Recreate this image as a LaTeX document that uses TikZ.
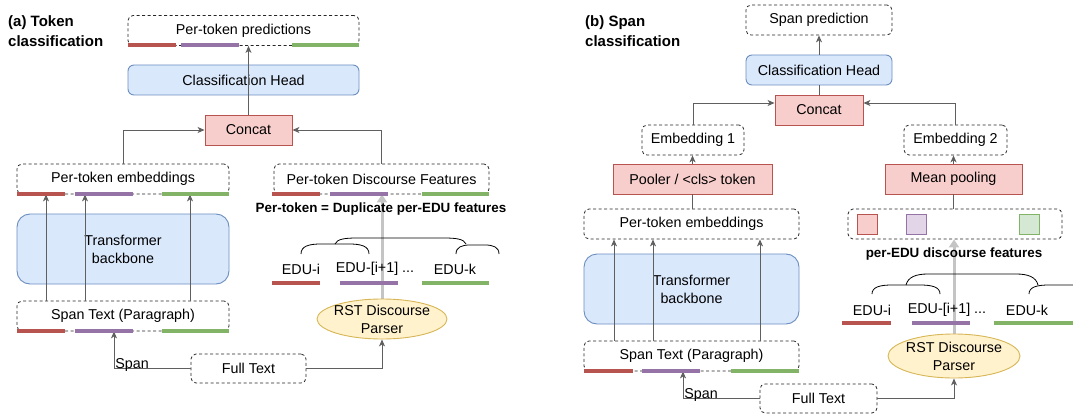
\documentclass[tikz,border=0pt]{standalone}
\usepackage{fontspec}
\setmainfont{Liberation Sans}
\usepackage{tikz}
\usetikzlibrary{arrows.meta,shapes,positioning,backgrounds}

\definecolor{linegray}{HTML}{5F5F5F}
\definecolor{edgeblue}{HTML}{6C8EBF}
\definecolor{fillblue}{HTML}{DAE8FC}
\definecolor{edgered}{HTML}{B85450}
\definecolor{fillred}{HTML}{F8CECC}
\definecolor{edgepurple}{HTML}{9673A6}
\definecolor{fillpurple}{HTML}{E1D5E7}
\definecolor{edgegreen}{HTML}{82B366}
\definecolor{fillgreen}{HTML}{D5E8D4}
\definecolor{edgeyellow}{HTML}{D6B656}
\definecolor{fillyellow}{HTML}{FFF2CC}
\definecolor{fatgray}{HTML}{C4C4C4}

\tikzset{
  dbox/.style={draw=black!85, line width=0.8pt, dash pattern=on 3pt off 2.5pt, rounded corners=5pt, minimum height=30pt, inner sep=0pt},
  headbox/.style={draw=edgeblue, line width=0.9pt, fill=fillblue, rounded corners=6pt, minimum height=30pt, inner sep=0pt},
  backbox/.style={draw=edgeblue, line width=0.9pt, fill=fillblue, rounded corners=13pt, minimum height=70pt, inner sep=0pt, align=center},
  opbox/.style={draw=edgered, line width=0.9pt, fill=fillred, minimum height=30pt, inner sep=0pt},
  parser/.style={ellipse, draw=edgeyellow, line width=0.9pt, fill=fillyellow, inner sep=0pt},
  featsq/.style={minimum size=20pt, inner sep=0pt, line width=0.9pt},
  notetext/.style={inner sep=0pt, font=\fontsize{13.4pt}{16pt}\selectfont\bfseries},
  paneltitle/.style={inner sep=0pt, anchor=west, align=left, font=\fontsize{15pt}{20pt}\selectfont\bfseries},
  arr/.style={draw=linegray, line width=0.9pt, -{Stealth[length=7pt,width=6pt,inset=2pt]}},
  link/.style={draw=linegray, line width=0.9pt},
  fat/.style={draw=fatgray, line width=3pt, -{Triangle[length=8pt,width=10pt]}},
  curlyline/.style={draw=black, line width=0.8pt},
  rbar/.style={draw=edgered, line width=4pt},
  pbar/.style={draw=edgepurple, line width=4pt},
  gbar/.style={draw=edgegreen, line width=4pt},
}

\begin{document}
\begin{tikzpicture}[x=1pt, y=-1pt, font=\fontsize{14.3pt}{18pt}\selectfont]
\useasboundingbox (0,0) rectangle (1073,417);

% (a) token classification
\node[paneltitle] (titleA) at (8,31) {(a) Token\\classification};
\node[dbox, minimum width=231pt] (predA) at (243.5,30.5) {Per-token predictions};
\node[headbox, minimum width=231pt] (headA) at (243.5,80) {Classification Head};
\node[opbox, minimum width=87pt] (concatA) at (248.5,130) {Concat};
\node[dbox, minimum width=212pt] (embA) at (123,179) {Per-token embeddings};
\node[dbox, minimum width=215pt] (featA) at (381.5,179) {Per-token Discourse Features};
\node[backbox, minimum width=212pt] (backA) at (123,249) {Transformer\\backbone};
\node[dbox, minimum width=212pt] (spanA) at (123,316) {Span Text (Paragraph)};
\node[dbox, minimum width=115pt, minimum height=29pt] (fullA) at (248.5,368.5) {Full Text};
\node[parser, minimum width=130pt, minimum height=40pt,
      label={[align=center]center:RST Discourse\\Parser}] (parserA) at (382,319) {};

\begin{scope}[on background layer]
\draw[fat] (parserA.north) -- (parserA.north |- featA.south);
\end{scope}

\node[notetext] (dupA) at (381,209) {Per-token = Duplicate per-EDU features};
\node (eduA1) at (301,269) {EDU-i};
\node (eduA2) at (375,269) {EDU-[i+1] ...};
\node (eduA3) at (455,269) {EDU-k};

\draw[arr] (concatA.north) -- (concatA.north |- predA.south);
\draw[arr] (embA.north) |- (concatA.west);
\draw[arr] (featA.north) |- (concatA.east);
\foreach \dx in {-77,-38,67}
  \draw[arr] ([xshift=\dx pt]spanA.north) -- ([xshift=\dx pt]embA.south);
\draw[arr] (fullA.west) -| ([xshift=-9pt]spanA.south)
  node[pos=0.5, anchor=base west, inner sep=0pt, xshift=1pt] {Span};
\draw[arr] (fullA.east) -| (parserA.south);

% discourse tree over the EDUs
\draw[curlyline] (301,254) .. controls (301,246) and (309,244) .. (321,244) -- (349,244)
  .. controls (361,244) and (369,246) .. (369,254);
\draw[curlyline] (335,244) .. controls (337,239) and (345,238) .. (357,238) -- (444,238)
  .. controls (456,238) and (464,239) .. (466,244);
\draw[curlyline] (456,254) .. controls (456,247) and (462,245) .. (470,245) -- (485,245)
  .. controls (493,245) and (499,247) .. (499,254);

% (b) span classification
\node[paneltitle] (titleB) at (585,31) {(b) Span\\classification};
\node[dbox, minimum width=146pt] (predB) at (819,20) {Span prediction};
\node[headbox, minimum width=146pt] (headB) at (819,70) {Classification Head};
\node[opbox, minimum width=88pt] (concatB) at (819,110) {Concat};
\node[dbox, minimum width=102pt] (embOne) at (693,140) {Embedding 1};
\node[dbox, minimum width=103pt] (embTwo) at (955.5,140) {Embedding 2};
\node[opbox, minimum width=159pt] (pooler) at (692.5,179) {Pooler / <cls> token};
\node[opbox, minimum width=137pt] (meanpool) at (953.5,179) {Mean pooling};
\node[dbox, minimum width=215pt] (embB) at (691.5,224) {Per-token embeddings};
\node[dbox, minimum width=214pt] (featB) at (955,224) {};
\node[featsq, draw=edgered, fill=fillred] (sqR) at (867,224) {};
\node[featsq, draw=edgepurple, fill=fillpurple] (sqP) at (916,224) {};
\node[featsq, draw=edgegreen, fill=fillgreen] (sqG) at (1029,224) {};
\node[backbox, minimum width=215pt] (backB) at (691.5,289) {Transformer\\backbone};
\node[dbox, minimum width=215pt] (spanB) at (691.5,356) {Span Text (Paragraph)};
\node[dbox, minimum width=117pt, minimum height=29pt] (fullB) at (818.5,398.5) {Full Text};
\node[parser, minimum width=132pt, minimum height=44pt,
      label={[align=center]center:RST Discourse\\Parser}] (parserB) at (954,356) {};

\begin{scope}[on background layer]
\draw[fat] (parserB.north) -- (parserB.north |- featB.south);
\end{scope}

\node[notetext] (eduNote) at (954,254) {per-EDU discourse features};
\node (eduB1) at (872,310) {EDU-i};
\node (eduB2) at (947,310) {EDU-[i+1] ...};
\node (eduB3) at (1027,310) {EDU-k};

\draw[link] (concatB) -- (headB);
\draw[arr] (headB) -- (predB);
\draw[arr] (embOne.north) |- ([yshift=7pt]concatB.west);
\draw[arr] (embTwo.north) |- ([yshift=7pt]concatB.east);
\draw[arr] (pooler.north) -- (pooler.north |- embOne.south);
\draw[arr] (meanpool.north) -- (meanpool.north |- embTwo.south);
\draw[link] (pooler.south) -- (pooler.south |- embB.north);
\draw[link] (meanpool.south) -- (meanpool.south |- featB.north);
\foreach \dx in {-77.5,-38.5,68.5}
  \draw[arr] ([xshift=\dx pt]spanB.north) -- ([xshift=\dx pt]embB.south);
\draw[arr] (fullB.west) -| ([xshift=-8.5pt]spanB.south)
  node[pos=0.5, anchor=base west, inner sep=0pt, xshift=1pt] {Span};
\draw[arr] (fullB.east) -| (parserB.south);

\draw[curlyline] (872,294) .. controls (872,287) and (880,285) .. (892,285) -- (920,285)
  .. controls (932,285) and (940,287) .. (940,294);
\draw[curlyline] (906,285) .. controls (908,277) and (916,274) .. (928,274) -- (1016,274)
  .. controls (1028,274) and (1036,277) .. (1038,285);
\draw[curlyline] (1029,294) .. controls (1029,287) and (1037,285) .. (1049,285) -- (1073,285);

% colour bars under the token rows and EDUs
\foreach \yy/\ra/\rb/\pa/\pb/\ga/\gb in {
  45/128/176/181/239/292/359,
  194/17/65/75/133/162/229,
  194/272/320/330/388/422/489,
  331/17/65/75/133/162/229,
  283/272/320/340/398/422/489,
  371/584/633/642/700/731/799,
  323/842/891/912/970/994/1073}{
  \draw[rbar] (\ra,\yy) -- (\rb,\yy);
  \draw[pbar] (\pa,\yy) -- (\pb,\yy);
  \draw[gbar] (\ga,\yy) -- (\gb,\yy);
}
\end{tikzpicture}
\end{document}
